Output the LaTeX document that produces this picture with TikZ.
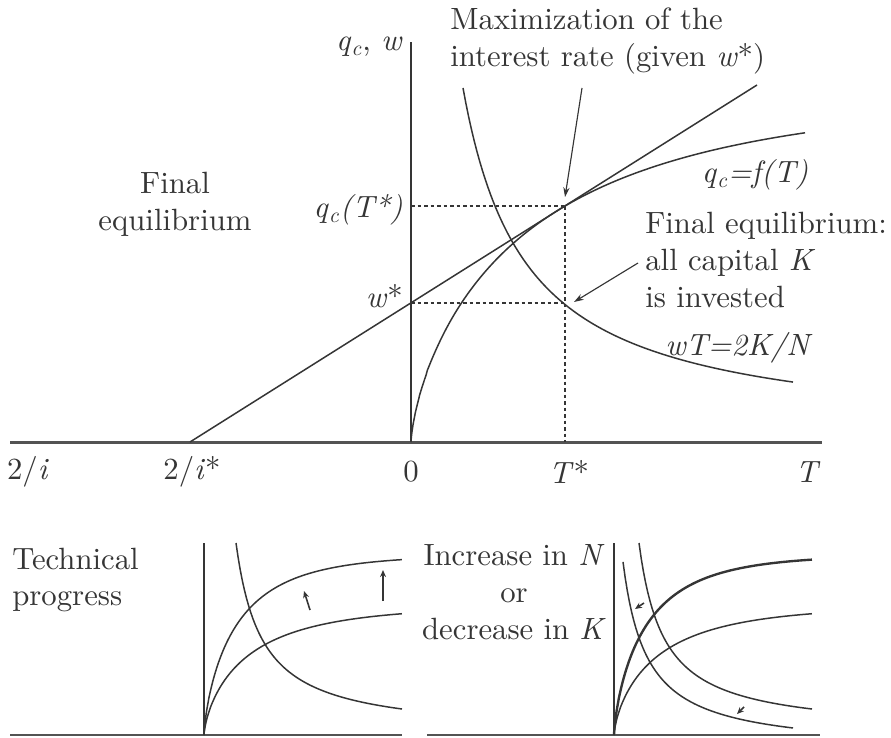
\documentclass[tikz,border=0pt]{standalone}
\usepackage{fontspec}
\setmainfont{lmroman10-regular}[Extension=.otf, ItalicFont=lmroman10-italic]
\usetikzlibrary{arrows.meta}
\definecolor{ink}{HTML}{353535}
\newcommand{\qc}{\textit{q}\textsubscript{\textit{c}}}
\begin{document}
\begin{tikzpicture}[x=0.02cm,y=-0.02cm,
  curve/.style={draw=ink, line width=0.85pt},
  boldcurve/.style={draw=ink, line width=1.35pt},
  mainaxis/.style={draw=ink!85, line width=1.7pt},
  subaxis/.style={draw=ink!85, line width=1.1pt},
  guide/.style={draw=ink, line width=0.75pt, dash pattern=on 2.2pt off 1.5pt},
  pointer/.style={draw=ink, line width=0.65pt, -{Stealth[length=5.5pt,width=3.6pt]}},
  tinyptr/.style={draw=ink, line width=0.9pt, -{Stealth[length=4pt,width=3.4pt]}},
  lbl/.style={text=ink, font=\fontsize{17.5}{21}\selectfont, inner sep=0pt}]
\useasboundingbox (0,0) rectangle (891,737);

% ---------- main panel ----------
\coordinate (O) at (411,442);
\coordinate (xl) at (10,442);
\coordinate (xr) at (822,442);
\coordinate (ytop) at (411,42);
\draw[mainaxis] (xl) -- (xr);
\draw[curve, line width=1.1pt] (O) -- (ytop);

% line from 2/i* through w*
\coordinate (istar) at (190,442);
\coordinate (lineend) at (757,85);
\draw[curve] (istar) -- (lineend);

% production function q_c = f(T)
\draw[curve] (O) -- plot[domain=0.2:19.85, samples=160]
  ({411+\x*\x}, {442-345*(1-exp(-exp(0.72*ln(\x*\x/126.5))))});

% hyperbola wT = 2K/N
\draw[curve] plot[domain=463:793, samples=120]
  (\x, {438.2-220.62/((\x-400)/100)});

% guide lines
\coordinate (qTs) at (411,206);
\coordinate (tan) at (565,206);
\coordinate (wst) at (411,303);
\coordinate (eq) at (565,303);
\coordinate (Tax) at (565,442);
\draw[guide] (qTs) -- (tan);
\draw[guide] (wst) -- (eq);
\draw[guide] (tan) -- (Tax);

% labels
\node[lbl, anchor=west, align=left] (maxlbl) at (450,41)
  {Maximization of the\\interest rate (given \textit{w}*)};
\node[lbl, anchor=east] (qw) at (403,47) {\qc, \textit{w}};
\node[lbl, anchor=east] (qT) at (403,210) {\qc\textit{(T*)}};
\node[lbl, anchor=east] (ws) at (403,296) {\textit{w}*};
\node[lbl, align=center] (fin) at (175,204) {Final\\equilibrium};
\node[lbl] (flab) at (755,175) {\qc\textit{=f(T)}};
\node[lbl, anchor=west, align=left] (fe) at (645,260)
  {Final equilibrium:\\all capital \textit{K}\\is invested};
\node[lbl] (wt) at (739,348) {\textit{wT=2K/N}};

\node[lbl] (l2i) at (28,472) {2/\textit{i}};
\node[lbl] (l2is) at (192,472) {2/\textit{i}*};
\node[lbl] (l0) at (411,472) {0};
\node[lbl] (lTs) at (569,472) {\textit{T}*};
\node[lbl] (lT) at (808,472) {\textit{T}};

% pointers
\coordinate (maxtail) at (582,88);
\coordinate (maxtip) at (565,197);
\draw[pointer] (maxtail) -- (maxtip);
\coordinate (fetail) at (638,263);
\coordinate (fetip) at (574,302);
\draw[pointer] (fetail) -- (fetip);

% ---------- bottom left: technical progress ----------
\coordinate (O1) at (204,735);
\coordinate (O1top) at (204,543);
\coordinate (b1l) at (10,735);
\coordinate (b1r) at (402,735);
\draw[subaxis] (b1l) -- (b1r);
\draw[curve, line width=1pt] (O1) -- (O1top);
\draw[curve] (O1) -- plot[domain=0.2:14.07, samples=120]
  ({204+\x*\x}, {735-180*(1-exp(-exp(0.75*ln(\x*\x/35.1))))});
\draw[curve] (O1) -- plot[domain=0.2:14.07, samples=120]
  ({204+\x*\x}, {735-129*(1-exp(-exp(0.72*ln(\x*\x/47))))});
\draw[curve] plot[domain=236:402, samples=80]
  (\x, {735-49.92/((\x-210)/100)});
\coordinate (a1tail) at (310,610);
\coordinate (a1tip) at (304,591);
\draw[tinyptr] (a1tail) -- (a1tip);
\coordinate (a2tail) at (383,601);
\coordinate (a2tip) at (383,570);
\draw[tinyptr, line width=1.3pt] (a2tail) -- (a2tip);
\node[lbl, anchor=west, align=left] (tech) at (12,580) {Technical\\progress};

% ---------- bottom right: increase in N or decrease in K ----------
\coordinate (O2) at (614,735);
\coordinate (O2top) at (614,543);
\coordinate (b2l) at (427,735);
\coordinate (b2r) at (820,735);
\draw[subaxis] (b2l) -- (b2r);
\draw[curve, line width=1pt] (O2) -- (O2top);
\draw[boldcurve] (O2) -- plot[domain=0.2:14.07, samples=120]
  ({614+\x*\x}, {735-180*(1-exp(-exp(0.75*ln(\x*\x/35.1))))});
\draw[curve] (O2) -- plot[domain=0.2:14.07, samples=120]
  ({614+\x*\x}, {735-129*(1-exp(-exp(0.72*ln(\x*\x/47))))});
\draw[curve] plot[domain=639:812, samples=80]
  (\x, {733-47.5/((\x-614)/100)});
\draw[curve] plot[domain=623:793, samples=80]
  (\x, {751.4-45.47/((\x-599)/100)});
\coordinate (a3tail) at (644,603);
\coordinate (a3tip) at (635,609);
\draw[tinyptr] (a3tail) -- (a3tip);
\coordinate (a4tail) at (744,707);
\coordinate (a4tip) at (737,714);
\draw[tinyptr] (a4tail) -- (a4tip);
\node[lbl, align=center] (incr) at (514,592)
  {Increase in \textit{N}\\or\\decrease in \textit{K}};
\end{tikzpicture}
\end{document}
